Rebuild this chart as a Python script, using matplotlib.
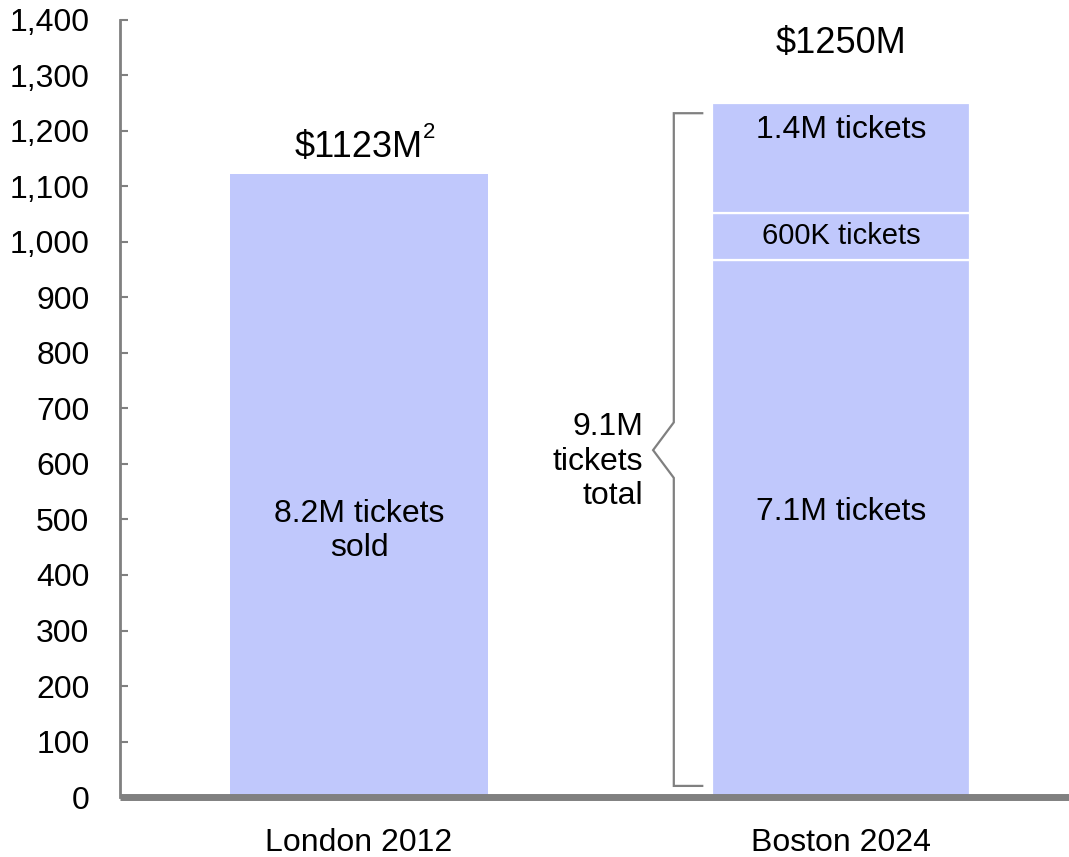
import matplotlib.pyplot as plt

plt.rcParams['font.family'] = ['Liberation Sans', 'DejaVu Sans']

# revenue in $M
games = ['London 2012', 'Boston 2024']
london_total = 1123
boston_segments = [968, 84, 198]
boston_labels = ['7.1M tickets', '600K tickets', '1.4M tickets']
yticks = list(range(0, 1401, 100))

bar_color = '#c0c8fc'
axis_grey = '#808080'
bar_w = 0.535

fig = plt.figure(figsize=(10.69, 8.57), dpi=100)
ax = fig.add_axes([0.1123, 0.07, 0.8877, 0.9067])

# London: single bar
ax.bar(0, london_total, width=bar_w, color=bar_color, linewidth=0)
ax.text(0, london_total / 2 - 82, '8.2M tickets\nsold', ha='center',
        va='center', fontsize=23, linespacing=1.2)
top_lab = ax.text(0, london_total + 48, f'${london_total}M', ha='center',
                  va='center', fontsize=26)
ax.annotate('2', xy=(1.0, 0.62), xycoords=top_lab, ha='left',
            va='bottom', fontsize=16)

# Boston: stacked segments split by thin white lines
bottom = 0
label_offsets = [0, 0, 50]
for seg, lab, off in zip(boston_segments, boston_labels, label_offsets):
    ax.bar(1, seg, bottom=bottom, width=bar_w, color=bar_color,
           edgecolor='white', linewidth=1.6)
    size = 23 if seg > 150 else 21
    if seg > 500:
        y = 513
    else:
        y = bottom + seg / 2 + off
    ax.text(1, y, lab, ha='center', va='center', fontsize=size)
    bottom += seg
boston_total = sum(boston_segments)
ax.text(1, boston_total + 108, f'${boston_total}M', ha='center',
        va='center', fontsize=26)

# brace marking total Boston tickets
bx, bx_end, apex_x = 0.653, 0.712, 0.610
b_lo, b_hi, apex_y = 20, boston_total - 18, 625
ax.plot([bx_end, bx, bx, apex_x, bx, bx, bx_end],
        [b_lo, b_lo, apex_y - 50, apex_y, apex_y + 50, b_hi, b_hi],
        color=axis_grey, linewidth=1.6, solid_joinstyle='miter',
        clip_on=False)
ax.text(0.589, 604, '9.1M\ntickets\ntotal', ha='right', va='center',
        fontsize=23, linespacing=1.2)

ax.set_xlim(-0.496, 1.473)
ax.set_ylim(0, 1400)
ax.set_yticks(yticks)
ax.set_yticklabels([f'{v:,}' for v in yticks])
ax.set_xticks([0, 1])
ax.set_xticklabels(games)

for side in ('top', 'right'):
    ax.spines[side].set_visible(False)
ax.spines['left'].set_color(axis_grey)
ax.spines['left'].set_linewidth(2)
ax.spines['bottom'].set_color(axis_grey)
ax.spines['bottom'].set_linewidth(5)
ax.spines['bottom'].set_capstyle('butt')

ax.tick_params(axis='y', direction='in', length=6, width=1.5,
               color=axis_grey, labelsize=23, pad=22)
ax.tick_params(axis='x', length=0, labelsize=23, pad=22)

fig.savefig('out.png', dpi=100)
